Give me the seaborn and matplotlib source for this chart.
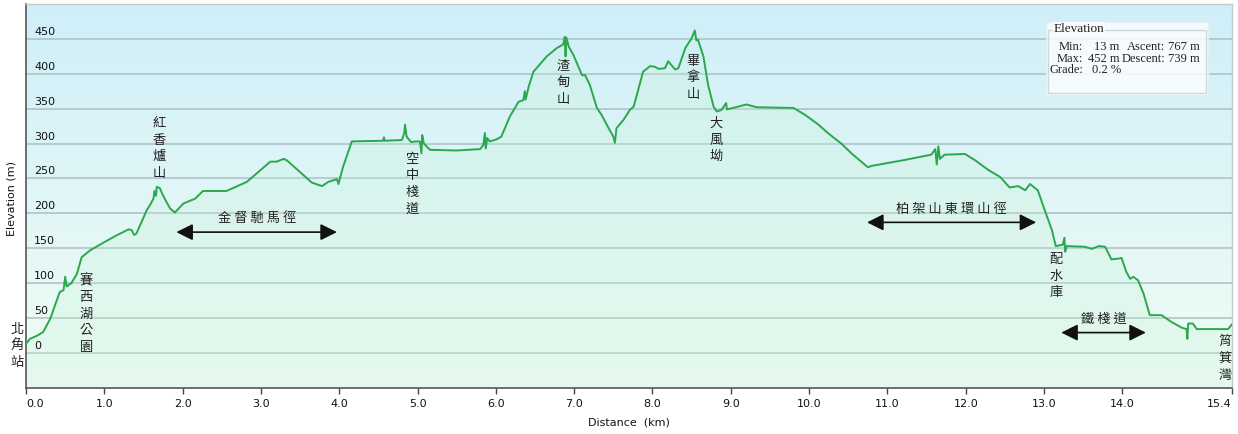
import numpy as np
import matplotlib
matplotlib.use("Agg")
import matplotlib.pyplot as plt
import seaborn as sns
from matplotlib.patches import Rectangle

# ===== DATA =====
dist_km = [
    0.00, 0.05, 0.15, 0.22, 0.31, 0.43, 0.48, 0.50, 0.52, 0.58, 0.65, 0.71, 0.82, 0.99,
    1.15, 1.31, 1.35, 1.38, 1.41, 1.54, 1.60, 1.63, 1.64, 1.66, 1.67, 1.71, 1.74, 1.78,
    1.84, 1.90, 2.01, 2.16, 2.26, 2.56, 2.82, 3.12, 3.20, 3.29, 3.33, 3.65, 3.78, 3.86,
    3.97, 3.99, 4.05, 4.16, 4.56, 4.57, 4.58, 4.80, 4.83, 4.84, 4.86, 4.88, 4.92, 4.97,
    5.03, 5.05, 5.06, 5.08, 5.14, 5.16, 5.50, 5.80, 5.84, 5.86, 5.87, 5.89, 5.92, 6.01,
    6.07, 6.18, 6.29, 6.35, 6.37, 6.38, 6.42, 6.48, 6.65, 6.78, 6.86, 6.88, 6.89, 6.90,
    6.93, 6.99, 7.10, 7.14, 7.20, 7.29, 7.35, 7.44, 7.50, 7.52, 7.54, 7.63, 7.71, 7.76,
    7.88, 7.97, 8.03, 8.08, 8.16, 8.20, 8.29, 8.33, 8.42, 8.50, 8.54, 8.56, 8.58, 8.65,
    8.71, 8.78, 8.82, 8.88, 8.94, 8.95, 9.03, 9.20, 9.33, 9.80, 9.95, 10.12, 10.24, 10.41,
    10.54, 10.75, 10.80, 11.20, 11.56, 11.61, 11.63, 11.65, 11.67, 11.73, 11.99, 12.12,
    12.29, 12.44, 12.56, 12.67, 12.76, 12.82, 12.92, 13.01, 13.10, 13.15, 13.24, 13.26,
    13.27, 13.29, 13.52, 13.61, 13.70, 13.78, 13.86, 13.95, 13.99, 14.05, 14.10, 14.14,
    14.20, 14.27, 14.35, 14.50, 14.63, 14.76, 14.82, 14.83, 14.84, 14.90, 14.95, 15.35,
    15.40,
]
elev_m = [
    13, 20, 25, 30, 49, 87, 90, 109, 95, 100, 113, 137, 147, 158,
    168, 177, 176, 169, 171, 204, 215, 222, 232, 225, 238, 236, 228, 219,
    207, 201, 214, 221, 232, 232, 245, 274, 274, 278, 276, 244, 239, 245,
    249, 242, 267, 303, 304, 309, 304, 305, 315, 327, 310, 307, 302, 303,
    303, 286, 312, 300, 293, 291, 290, 292, 298, 315, 293, 308, 303, 306,
    310, 339, 360, 362, 375, 363, 382, 403, 425, 437, 442, 453, 425, 452,
    439, 427, 398, 398, 384, 351, 341, 322, 310, 301, 322, 334, 348, 353,
    403, 411, 410, 407, 408, 418, 406, 408, 437, 451, 462, 448, 449, 425,
    384, 353, 346, 348, 358, 349, 351, 356, 352, 351, 341, 327, 315, 300,
    286, 266, 268, 276, 284, 292, 270, 296, 278, 284, 285, 276,
    262, 252, 237, 239, 233, 242, 233, 204, 176, 153, 155, 165,
    145, 153, 152, 149, 153, 152, 134, 135, 136, 116, 106, 109,
    104, 85, 54, 54, 44, 36, 34, 20, 42, 42, 34, 34,
    41,
]

x_ticks = [0.0, 1.0, 2.0, 3.0, 4.0, 5.0, 6.0, 7.0, 8.0, 9.0, 10.0, 11.0, 12.0, 13.0, 14.0, 15.4]
y_ticks = [0, 50, 100, 150, 200, 250, 300, 350, 400, 450]

# place names (vertical) : (km, elevation of block centre)
place_names = ["北角站", "賽西湖公園", "紅香爐山", "空中棧道", "渣甸山", "畢拿山", "大風坳", "配水庫", "筲箕灣"]
place_km = [-0.11, 0.77, 1.70, 4.93, 6.86, 8.52, 8.81, 13.15, 15.31]
place_elev = [10, 56, 293, 242, 387, 394, 305, 110, -8]

# trail sections (horizontal with double arrow)
trail_names = ["金督馳馬徑", "柏架山東環山徑", "鐵棧道"]
trail_start = [1.92, 10.74, 13.22]
trail_end = [3.97, 12.90, 14.30]
trail_elev = [173, 187, 29]

stats_min, stats_max = 13, 452
stats_ascent, stats_descent = 767, 739
stats_grade = 0.2

# ===== STYLE =====
sns.set_theme(style="white")
plt.rcParams["font.family"] = ["DejaVu Sans"]
cjk_font = ["Noto Sans CJK TC", "DejaVu Sans"]
serif_font = ["Liberation Serif", "DejaVu Serif"]

line_color = "#2aa84c"
grid_color = "#aabfc7"

fig = plt.figure(figsize=(12.38, 4.34), dpi=100)
W, H = 1238, 434
ax = fig.add_axes([26 / W, 1 - 387.7 / H, (1232 - 26) / W, (387.7 - 4) / H])

# gradient background
grad = np.linspace(0, 1, 256).reshape(-1, 1)
top_c = np.array([0.812, 0.937, 0.976])
bot_c = np.array([0.945, 0.992, 0.961])
img = top_c * (1 - grad[..., None]) + bot_c * grad[..., None]
img = img.reshape(256, 1, 3)
ax.imshow(img, extent=[0, 1, 0, 1], transform=ax.transAxes, aspect="auto", zorder=0)

# grid lines
for yv in y_ticks:
    ax.axhline(yv, color=grid_color, lw=1.1, zorder=1)

# fill and line
ax.fill_between(dist_km, elev_m, -50, color="#c8f2d8", alpha=0.28, lw=0, zorder=2)
sns.lineplot(x=dist_km, y=elev_m, ax=ax, color=line_color, linewidth=1.4,
             estimator=None, sort=False, zorder=3)

ax.set_xlim(0, 15.4)
ax.set_ylim(-50, 500)

# y tick labels inside plot, above grid lines
ax.set_yticks([])
for yv in y_ticks:
    ax.text(8 / 1206, yv + 10, str(yv), transform=ax.get_yaxis_transform(),
            ha="left", va="center", fontsize=8, color="#111111", zorder=4)

# x ticks
ax.set_xticks(x_ticks)
ax.set_xticklabels([f"{v:.1f}" for v in x_ticks], fontsize=8, color="#111111")
labels = ax.get_xticklabels()
labels[0].set_ha("left")
labels[-1].set_ha("right")
ax.tick_params(axis="x", bottom=True, length=4, width=1, color="#444444", pad=4)

ax.set_xlabel("Distance  (km)", fontsize=8, labelpad=6, color="#111111")
ax.set_ylabel("Elevation (m)", fontsize=8, labelpad=6, color="#111111")
ax.yaxis.set_label_coords(-9 / 1206, (387.7 - 199) / 383.7)

for side in ["left", "bottom"]:
    ax.spines[side].set_color("#555555")
    ax.spines[side].set_linewidth(1.2)
for side in ["top", "right"]:
    ax.spines[side].set_color("#c8c8c8")
    ax.spines[side].set_linewidth(1.0)

# place names, vertical
for name, xk, ye in zip(place_names, place_km, place_elev):
    ax.text(xk, ye, "\n".join(name), ha="center", va="center", fontsize=9.5,
            linespacing=1.36, family=cjk_font, color="#222222", zorder=5,
            clip_on=False)

# trail sections with arrows
for name, x0, x1, ye in zip(trail_names, trail_start, trail_end, trail_elev):
    ax.annotate("", xy=(x1, ye), xytext=(x0, ye),
                arrowprops=dict(arrowstyle="<|-|>,head_length=1.0,head_width=0.5",
                                mutation_scale=10, color="#111111", lw=1.2,
                                shrinkA=0, shrinkB=0), zorder=5)
    ax.text((x0 + x1) / 2, ye + 19, " ".join(name), ha="center", va="center",
            fontsize=9.5, family=cjk_font, color="#222222", zorder=5)

# stats box
def fx(px):
    return px / W


def fy(py):
    return 1 - py / H


fig.patches.append(Rectangle((fx(1046), fy(95)), (1208 - 1046) / W, (95 - 22) / H,
                             transform=fig.transFigure, facecolor="white", alpha=0.8,
                             edgecolor="#e4eef2", lw=1.0, zorder=10))
fig.patches.append(Rectangle((fx(1047.5), fy(93)), (1206 - 1047.5) / W, (93 - 30) / H,
                             transform=fig.transFigure, facecolor="none",
                             edgecolor="#cfd9dd", lw=1.0, zorder=11))
fig.text(fx(1054), fy(29), "Elevation", ha="left", va="center", fontsize=9.5,
         family=serif_font, color="#222222", zorder=12,
         bbox=dict(facecolor="#f8fcfd", edgecolor="none", pad=0.5))

row1 = fy(47)
row2 = fy(58.5)
row3 = fy(70)
txt = dict(fontsize=9, family=serif_font, color="#222222", va="center", zorder=12)
fig.text(fx(1083), row1, "Min:", ha="right", **txt)
fig.text(fx(1119), row1, f"{stats_min} m", ha="right", **txt)
fig.text(fx(1165), row1, "Ascent:", ha="right", **txt)
fig.text(fx(1200), row1, f"{stats_ascent} m", ha="right", **txt)
fig.text(fx(1083), row2, "Max:", ha="right", **txt)
fig.text(fx(1119), row2, f"{stats_max} m", ha="right", **txt)
fig.text(fx(1165), row2, "Descent:", ha="right", **txt)
fig.text(fx(1200), row2, f"{stats_descent} m", ha="right", **txt)
fig.text(fx(1083), row3, "Grade:", ha="right", **txt)
fig.text(fx(1092), row3, f"{stats_grade} %", ha="left", **txt)

fig.savefig("out.png", dpi=100)
